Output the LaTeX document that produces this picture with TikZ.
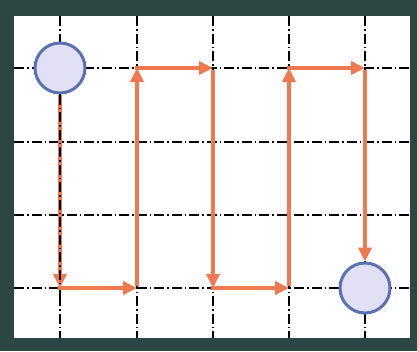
\documentclass[tikz,border=0pt]{standalone}
\usetikzlibrary{arrows.meta}
\definecolor{frame}{RGB}{44,70,68}
\definecolor{path}{RGB}{240,120,80}
\definecolor{circfill}{RGB}{226,224,244}
\definecolor{circdraw}{RGB}{90,115,176}
\tikzset{
  gridline/.style={black, line width=1.5pt, dash pattern=on 10pt off 3pt on 1.5pt off 3pt},
  route/.style={path, line width=4pt, -{Triangle[length=14pt,width=13pt]}},
  endpoint/.style={circle, draw=circdraw, fill=circfill, line width=3pt, minimum size=50pt, inner sep=0pt}
}
\begin{document}
\begin{tikzpicture}[x=1pt,y=-1pt]
\useasboundingbox (0,0) rectangle (417,351);
\fill[frame] (0,0) rectangle (417,351);
\fill[white] (14,16) rectangle (410,338);
% grid
\foreach \x in {60,137,213,289,365} \draw[gridline] (\x,16) -- (\x,338);
\foreach \y in {68,142,215,288} \draw[gridline] (14,\y) -- (410,\y);
% corners
\coordinate (a) at (60,288);
\coordinate (b) at (137,288);
\coordinate (c) at (137,68);
\coordinate (d) at (213,68);
\coordinate (f) at (213,288);
\coordinate (g) at (289,288);
\coordinate (h) at (289,68);
\coordinate (i) at (365,68);
% endpoints
\node[endpoint] (s) at (60,68) {};
\node[endpoint] (e) at (365,288) {};
% route
\draw[route, line width=4pt] (s.south) -- (a);
\draw[gridline] (s.south) -- ([yshift=-16pt]a);
\draw[route] ([xshift=-2pt]a) -- (b);
\draw[route] ([yshift=2pt]b) -- (c);
\draw[route] ([xshift=-2pt]c) -- (d);
\draw[route] ([yshift=-2pt]d) -- (f);
\draw[route] ([xshift=-2pt]f) -- (g);
\draw[route] ([yshift=2pt]g) -- (h);
\draw[route] ([xshift=-2pt]h) -- (i);
\draw[route] ([yshift=-2pt]i) -- (e.north);
\end{tikzpicture}
\end{document}
